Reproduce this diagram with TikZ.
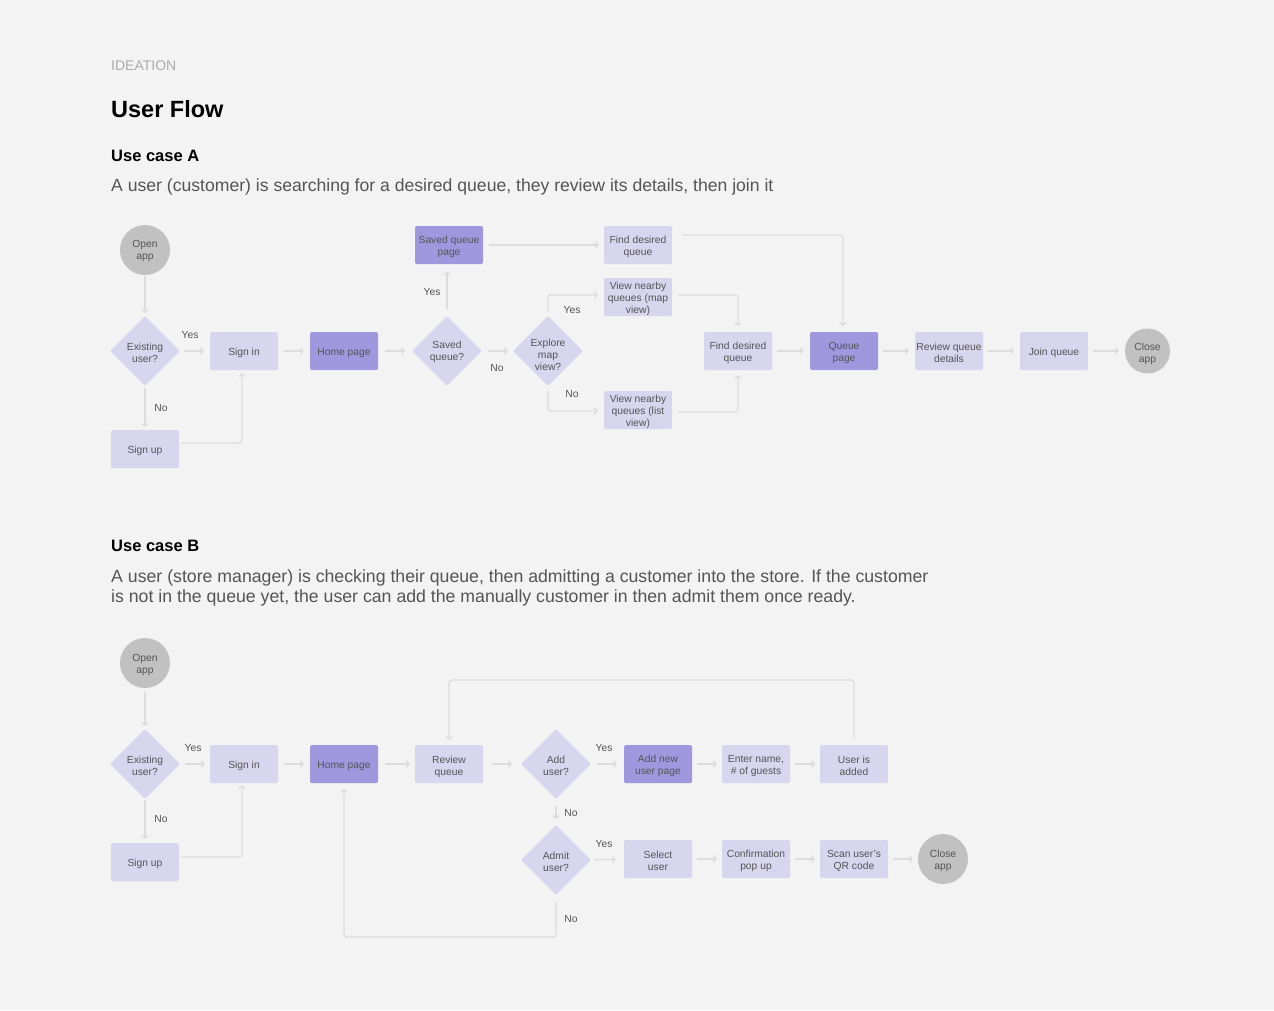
\documentclass[tikz,border=0pt]{standalone}
\usepackage{fontspec}
\setmainfont{Liberation Sans}
\usetikzlibrary{arrows.meta,shapes.geometric}
\definecolor{bgc}{HTML}{F3F3F3}
\definecolor{lightbox}{HTML}{D8D5EE}
\definecolor{darkbox}{HTML}{9F98DF}
\definecolor{circc}{HTML}{C1C1C1}
\definecolor{linec}{HTML}{DCDCDC}
\definecolor{txtc}{HTML}{555555}
\definecolor{capc}{HTML}{ABABAB}
\tikzset{
  nfont/.style={font=\fontsize{10.3}{12}\selectfont, text=txtc},
  btext/.style={nfont, align=center, inner sep=0pt, yshift=-2pt},
  box/.style={fill=lightbox, rounded corners=1.5pt, minimum width=68pt, minimum height=38pt, inner sep=0pt},
  dbox/.style={box, fill=darkbox},
  dec/.style={diamond, fill=lightbox, rounded corners=2pt, minimum width=70pt, minimum height=70pt, inner sep=0pt},
  endc/.style={circle, fill=circc, minimum size=50pt, inner sep=0pt},
  arr/.style={draw=linec, line width=1.3pt, -{Straight Barb[length=2.5pt,width=6.5pt]}},
  elb/.style={arr, rounded corners=3pt},
  lbl/.style={nfont, inner sep=0pt, yshift=-1pt},
  ttl/.style={anchor=base west, inner sep=0pt},
}
\begin{document}
\begin{tikzpicture}[x=1pt,y=-1pt]
\fill[bgc] (0,0) rectangle (1274,1010);
\useasboundingbox (0,0) rectangle (1274,1010);

% header
\node[ttl, text=capc, font=\fontsize{14}{16}\selectfont] (hdr) at (111,70.5) {IDEATION};
\node[ttl, text=black, font=\bfseries\fontsize{23.5}{26}\selectfont] (title) at (111,117.7) {User Flow};
\node[ttl, text=black, font=\bfseries\fontsize{16.5}{19}\selectfont] (uca) at (111,161) {Use case A};
\node[ttl, text=txtc, font=\fontsize{17.6}{20}\selectfont] (desca) at (111,191.5) {A user (customer) is searching for a desired queue, they review its details, then join it};
\node[ttl, text=black, font=\bfseries\fontsize{16.5}{19}\selectfont] (ucb) at (111,551.5) {Use case B};
\node[ttl, text=txtc, font=\fontsize{17.7}{20}\selectfont] (descb1) at (111,582.5) {A user (store manager) is checking their queue, then admitting a customer into the store. If the customer};
\node[ttl, text=txtc, font=\fontsize{17.7}{20}\selectfont] (descb2) at (111,602.5) {is not in the queue yet, the user can add the manually customer in then admit them once ready.};

% ---------------- Use case A ----------------
\node[endc, label={[btext, yshift=1pt]center:Open\\app}] (oa1) at (145,250) {};
\node[dec, label={[btext]center:Existing\\user?}] (ex1) at (145,351) {};
\node[box, label={[btext]center:Sign in}] (si1) at (244,351) {};
\node[box, label={[btext]center:Sign up}] (su1) at (145,449) {};
\node[dbox, label={[btext]center:Home page}] (hp1) at (344,351) {};
\node[dec, label={[btext, yshift=1pt]center:Saved\\queue?}] (sq) at (447,351) {};
\node[dbox, label={[btext]center:Saved queue\\page}] (sqp) at (449,245) {};
\node[box, label={[btext]center:Find desired\\queue}] (fd1) at (638,245) {};
\node[dec, label={[btext, yshift=-2pt]center:Explore\\map\\view?}] (em) at (548,351) {};
\node[box, label={[btext]center:View nearby\\queues (map\\view)}] (vm) at (638,297) {};
\node[box, label={[btext]center:View nearby\\queues (list\\view)}] (vl) at (638,410) {};
\node[box, label={[btext]center:Find desired\\queue}] (fd2) at (738,351) {};
\node[dbox, label={[btext]center:Queue\\page}] (qp) at (844,351) {};
\node[box, label={[btext]center:Review queue\\details}] (rq) at (949,351) {};
\node[box, label={[btext]center:Join queue}] (jq) at (1054,351) {};
\node[endc, minimum size=45pt, label={[btext, yshift=-1pt]center:Close\\app}] (ca1) at (1147.5,351) {};

\node[lbl] (ya1) at (190,334) {Yes};
\node[lbl] (na1) at (161,407) {No};
\node[lbl] (ya2) at (432,291) {Yes};
\node[lbl] (na2) at (497,367) {No};
\node[lbl] (ya3) at (572,309) {Yes};
\node[lbl] (na3) at (572,393) {No};

\draw[arr, shorten <=1pt, shorten >=3pt] (oa1) -- (ex1);
\draw[arr, shorten <=4pt, shorten >=6pt] (ex1) -- (si1);
\draw[arr, shorten <=2pt, shorten >=3pt] (ex1) -- (su1);
\draw[elb, shorten <=2pt, shorten >=3pt] ([yshift=6pt]su1.east) -| ([xshift=-2pt]si1.south);
\draw[arr, shorten <=6pt, shorten >=6pt] (si1) -- (hp1);
\draw[arr, shorten <=7pt, shorten >=7pt] (hp1) -- (sq);
\draw[arr, shorten <=7pt, shorten >=7pt] (sq.north) -- (sq.north |- sqp.south);
\draw[arr, shorten <=6pt, shorten >=5pt] (sqp) -- (fd1);
\draw[arr, shorten <=6pt, shorten >=5pt] (sq) -- (em);
\draw[elb, shorten <=5pt, shorten >=6pt] (em.north) |- ([yshift=2pt]vm.west);
\draw[elb, shorten <=5pt, shorten >=6pt] (em.south) |- ([yshift=-1pt]vl.west);
\draw[elb, shorten <=10pt, shorten >=6pt] ([yshift=10pt]fd1.east) -| ([xshift=-1pt]qp.north);
\draw[elb, shorten <=6pt, shorten >=6pt] ([yshift=2pt]vm.east) -| (fd2.north);
\draw[elb, shorten <=6pt, shorten >=5pt] ([yshift=-2pt]vl.east) -| (fd2.south);
\draw[arr, shorten <=5pt, shorten >=6pt] (fd2) -- (qp);
\draw[arr, shorten <=5pt, shorten >=6pt] (qp) -- (rq);
\draw[arr, shorten <=5pt, shorten >=6pt] (rq) -- (jq);
\draw[arr, shorten <=5pt, shorten >=6pt] (jq) -- (ca1);

% ---------------- Use case B ----------------
\node[endc, label={[btext]center:Open\\app}] (oa2) at (145,663) {};
\node[dec, label={[btext]center:Existing\\user?}] (ex2) at (145,764) {};
\node[box, label={[btext]center:Sign in}] (si2) at (244,764) {};
\node[box, label={[btext]center:Sign up}] (su2) at (145,862) {};
\node[dbox, label={[btext]center:Home page}] (hp2) at (344,764) {};
\node[box, label={[btext, yshift=-1pt]center:Review\\queue}] (rv) at (449,764) {};
\node[dec, label={[btext]center:Add\\user?}] (au) at (556,764) {};
\node[dbox, label={[btext]center:Add new\\user page}] (an) at (658,764) {};
\node[box, label={[btext]center:Enter name,\\\# of guests}] (en) at (756,764) {};
\node[box, label={[btext]center:User is\\added}] (ua) at (854,764) {};
\node[dec, label={[btext]center:Admit\\user?}] (ad) at (556,860) {};
\node[box, label={[btext]center:Select\\user}] (sel) at (658,859) {};
\node[box, label={[btext]center:Confirmation\\pop up}] (cf) at (756,859) {};
\node[box, label={[btext]center:Scan user’s\\QR code}] (sc) at (854,859) {};
\node[endc, label={[btext]center:Close\\app}] (ca2) at (943,859) {};

\node[lbl] (yb1) at (193,747) {Yes};
\node[lbl] (nb1) at (161,818) {No};
\node[lbl] (yb2) at (604,747) {Yes};
\node[lbl] (nb2) at (571,812) {No};
\node[lbl] (yb3) at (604,843) {Yes};
\node[lbl] (nb3) at (571,918) {No};

\coordinate (topB) at (0,680);
\coordinate (botB) at (0,937);

\draw[arr, shorten <=4pt, shorten >=3pt] (oa2) -- (ex2);
\draw[arr, shorten <=5pt, shorten >=5pt] (ex2) -- (si2);
\draw[arr, shorten <=1pt, shorten >=4pt] (ex2) -- (su2);
\draw[elb, shorten <=2pt, shorten >=2pt] ([yshift=5pt]su2.east) -| ([xshift=-2pt]si2.south);
\draw[arr, shorten <=6pt, shorten >=6pt] (si2) -- (hp2);
\draw[arr, shorten <=7pt, shorten >=5pt] (hp2) -- (rv);
\draw[arr, shorten <=9pt, shorten >=9pt] (rv) -- (au);
\draw[arr, shorten <=6pt, shorten >=7pt] (au) -- (an);
\draw[arr, shorten <=5pt, shorten >=5pt] (an) -- (en);
\draw[arr, shorten <=5pt, shorten >=5pt] (en) -- (ua);
\draw[elb, shorten <=7pt, shorten >=5pt] (ua.north) -- (ua.north |- topB) -| (rv.north);
\draw[arr, shorten <=7pt, shorten >=6pt] (au) -- (ad);
\draw[arr, shorten <=4pt, shorten >=8pt] (ad) -- (sel);
\draw[arr, shorten <=5pt, shorten >=5pt] (sel) -- (cf);
\draw[arr, shorten <=5pt, shorten >=5pt] (cf) -- (sc);
\draw[arr, shorten <=5pt, shorten >=5pt] (sc) -- (ca2);
\draw[elb, shorten <=7pt, shorten >=6pt] (ad.south) -- (ad.south |- botB) -| (hp2.south);
\end{tikzpicture}
\end{document}
